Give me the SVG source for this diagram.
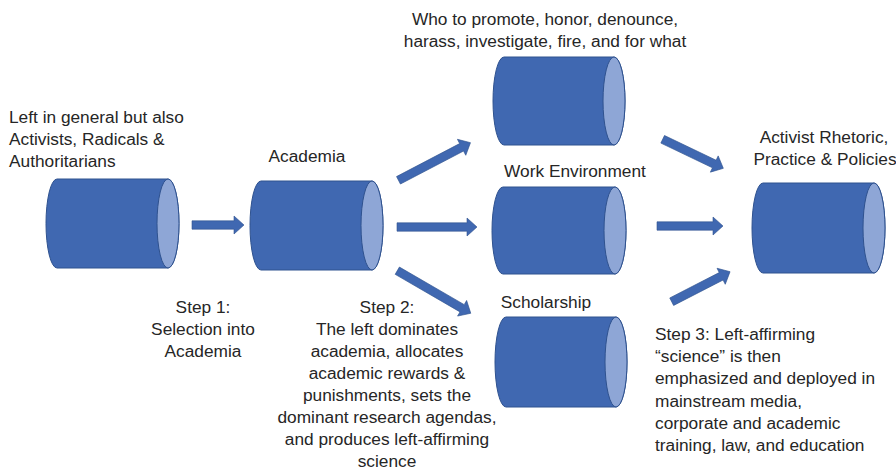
<svg xmlns="http://www.w3.org/2000/svg" width="896" height="475" viewBox="0 0 896 475">
<style>
.body{fill:#4068B1;stroke:#2F528F;stroke-width:1}
.end{fill:#8EA6D6;stroke:#2F528F;stroke-width:1}
.arr{fill:#4068B1;stroke:#2F528F;stroke-width:0.6}
text{font-family:"Liberation Sans",Arial,sans-serif;font-size:17.3px;fill:#262626}
.c{text-anchor:middle}
</style>
<rect width="896" height="475" fill="#ffffff"/>
<g id="connectors">
<path class="arr" transform="translate(192,225)" d="M0,-4.2 H42 V-9 L52,0 L42,9 V4.2 H0 Z"/>
<path class="arr" transform="translate(398.5,180.3) rotate(-27.6)" d="M0,-4.2 H71.2 V-9 L81.2,0 L71.2,9 V4.2 H0 Z"/>
<path class="arr" transform="translate(397,227)" d="M0,-4.2 H70 V-9 L80,0 L70,9 V4.2 H0 Z"/>
<path class="arr" transform="translate(397.3,270.7) rotate(30.1)" d="M0,-4.2 H74.9 V-9 L84.9,0 L74.9,9 V4.2 H0 Z"/>
<path class="arr" transform="translate(662.7,139.3) rotate(25.6)" d="M0,-4.2 H57.2 V-9 L67.2,0 L57.2,9 V4.2 H0 Z"/>
<path class="arr" transform="translate(657,226)" d="M0,-4.2 H56 V-9 L66,0 L56,9 V4.2 H0 Z"/>
<path class="arr" transform="translate(671.7,301.7) rotate(-27.2)" d="M0,-4.2 H55.6 V-9 L65.6,0 L55.6,9 V4.2 H0 Z"/>
</g>
<g id="node-left">
<path class="body" d="M57,179 H168 A11,44.5 0 0 1 168,268 H57 A11,44.5 0 0 1 57,179 Z"/>
<ellipse class="end" cx="168" cy="223.5" rx="11" ry="44.5"/>
<text x="9" y="123">Left in general but also</text>
<text x="9" y="145">Activists, Radicals &amp;</text>
<text x="9" y="167">Authoritarians</text>
</g>
<g id="node-academia">
<path class="body" d="M261,181 H372 A11,44.5 0 0 1 372,270 H261 A11,44.5 0 0 1 261,181 Z"/>
<ellipse class="end" cx="372" cy="225.5" rx="11" ry="44.5"/>
<text class="c" x="307" y="162">Academia</text>
</g>
<g id="node-promote">
<path class="body" d="M504,57 H614 A11,44 0 0 1 614,145 H504 A11,44 0 0 1 504,57 Z"/>
<ellipse class="end" cx="614" cy="101" rx="11" ry="44"/>
<text class="c" x="545" y="25">Who to promote, honor, denounce,</text>
<text class="c" x="545" y="47">harass, investigate, fire, and for what</text>
</g>
<g id="node-work">
<path class="body" d="M503,187 H615 A11,43.5 0 0 1 615,274 H503 A11,43.5 0 0 1 503,187 Z"/>
<ellipse class="end" cx="615" cy="230.5" rx="11" ry="43.5"/>
<text class="c" x="575" y="177">Work Environment</text>
</g>
<g id="node-scholarship">
<path class="body" d="M506,317 H616 A11,45 0 0 1 616,407 H506 A11,45 0 0 1 506,317 Z"/>
<ellipse class="end" cx="616" cy="362" rx="11" ry="45"/>
<text class="c" x="546" y="308">Scholarship</text>
</g>
<g id="node-activist">
<path class="body" d="M763,183 H874 A11,45 0 0 1 874,273 H763 A11,45 0 0 1 763,183 Z"/>
<ellipse class="end" cx="874" cy="228" rx="11" ry="45"/>
<text class="c" x="824" y="143">Activist Rhetoric,</text>
<text class="c" x="825" y="165">Practice &amp; Policies</text>
</g>
<g id="step-labels">
<text class="c" x="203" y="313">Step 1:</text>
<text class="c" x="203" y="335">Selection into</text>
<text class="c" x="203" y="357">Academia</text>
<text class="c" x="387" y="313">Step 2:</text>
<text class="c" x="387" y="335">The left dominates</text>
<text class="c" x="387" y="357">academia, allocates</text>
<text class="c" x="387" y="379">academic rewards &amp;</text>
<text class="c" x="387" y="401">punishments, sets the</text>
<text class="c" x="387" y="423">dominant research agendas,</text>
<text class="c" x="387" y="445">and produces left-affirming</text>
<text class="c" x="387" y="467">science</text>
<text x="655" y="340">Step 3: Left-affirming</text>
<text x="655" y="362">“science” is then</text>
<text x="655" y="384">emphasized and deployed in</text>
<text x="655" y="407">mainstream media,</text>
<text x="655" y="429">corporate and academic</text>
<text x="655" y="451">training, law, and education</text>
</g>
</svg>
